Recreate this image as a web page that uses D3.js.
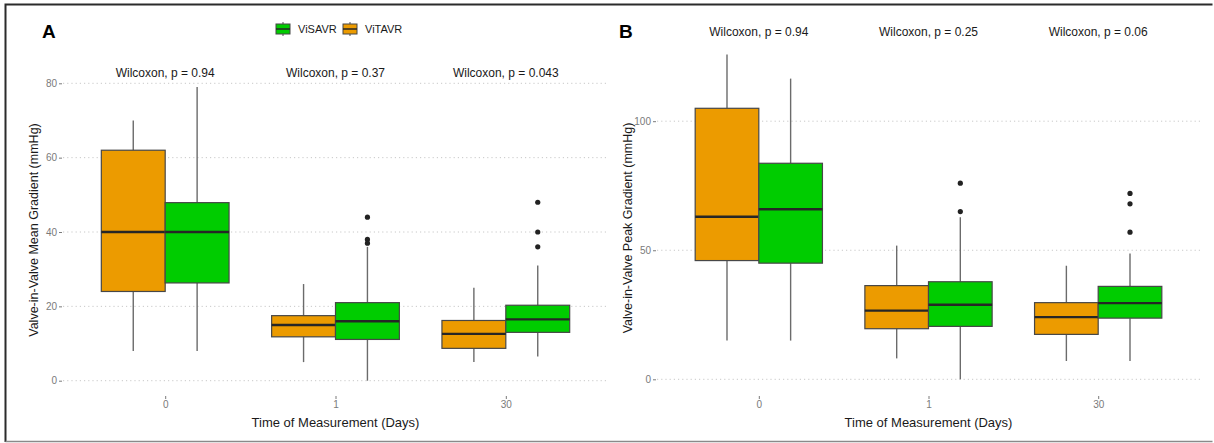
<!DOCTYPE html>
<html>
<head>
<meta charset="utf-8">
<script src="https://cdn.jsdelivr.net/npm/d3@7"></script>
<style>
  body { margin: 0; background: #fff; }
  svg { display: block; font-family: "Liberation Sans", Arial, sans-serif; }
  .grid line { stroke: #c8c8c8; stroke-dasharray: 1.2 3; stroke-width: 1; }
  .axis text { fill: #7a7a7a; font-size: 10px; }
  .axis line { stroke: #7a7a7a; }
  .axis path { display: none; }
</style>
</head>
<body>
<div id="chart"></div>
<script>
// categories
const days = ["0", "1", "30"];
const groups = ["ViTAVR", "ViSAVR"];          // dodge order (left, right)
const legendOrder = ["ViSAVR", "ViTAVR"];
const colors = { ViTAVR: "#ec9b00", ViSAVR: "#00cc00" };

// box stats per day: [lower whisker, Q1, median, Q3, upper whisker]
const meanTAVR = [[8, 24, 40, 62, 70], [5, 11.8, 15, 17.5, 26], [5, 8.7, 12.6, 16.2, 25]];
const meanSAVR = [[8, 26.3, 40, 47.9, 79], [0, 11.1, 16, 21, 36], [6.5, 13, 16.5, 20.3, 31]];
const meanTAVROut = [[], [], []];
const meanSAVROut = [[], [37, 38, 44], [36, 40, 48]];
const meanP = ["0.94", "0.37", "0.043"];
const meanTicks = [0, 20, 40, 60, 80];

const peakTAVR = [[15, 46, 63, 105, 125.8], [8.1, 19.6, 26.6, 36.3, 51.8], [7.1, 17.4, 24.1, 29.7, 44]];
const peakSAVR = [[15, 45, 65.9, 83.7, 116.5], [0, 20.5, 28.9, 37.8, 62.8], [7.1, 23.7, 29.5, 36, 48.7]];
const peakTAVROut = [[], [], []];
const peakSAVROut = [[], [65, 76], [57, 68, 72]];
const peakP = ["0.94", "0.25", "0.06"];
const peakTicks = [0, 50, 100];

const W = 1214, H = 443;
const svg = d3.select("#chart").append("svg").attr("width", W).attr("height", H);

// outer frame
svg.append("path")
  .attr("d", `M5.5,442 L5.5,4.5 L1212.5,4.5`)
  .attr("fill", "none").attr("stroke", "#2b2b2b").attr("stroke-width", 2);
svg.append("path")
  .attr("d", `M5.5,441.5 L1212.5,441.5`)
  .attr("fill", "none").attr("stroke", "#8a8a8a").attr("stroke-width", 1.5);

function panel(opt) {
  const g = svg.append("g");
  const x = d3.scalePoint().domain(days).range([opt.left + 0.6 * opt.step, opt.right - 0.6 * opt.step]);
  const y = d3.scaleLinear().domain(opt.domain).range(opt.yRange);
  const bw = opt.step * 0.75 / 2;

  // grid
  g.append("g").attr("class", "grid").selectAll("line").data(opt.ticks).join("line")
    .attr("x1", opt.left).attr("x2", opt.right)
    .attr("y1", d => y(d)).attr("y2", d => y(d));

  // axes
  g.append("g").attr("class", "axis")
    .attr("transform", `translate(${opt.left - 1},0)`)
    .call(d3.axisLeft(y).tickValues(opt.ticks).tickSize(3).tickPadding(2));
  g.append("g").attr("class", "axis")
    .attr("transform", `translate(0,${opt.xAxisY})`)
    .call(d3.axisBottom(x).tickSize(3).tickPadding(2));

  // axis titles
  g.append("text")
    .attr("transform", `translate(${opt.titleX},${opt.titleY}) rotate(-90)`)
    .attr("text-anchor", "middle").attr("font-size", 12.5).attr("fill", "#1a1a1a")
    .text(opt.yTitle);
  g.append("text")
    .attr("x", (opt.left + opt.right) / 2).attr("y", 427)
    .attr("text-anchor", "middle").attr("font-size", 13).attr("fill", "#1a1a1a")
    .text("Time of Measurement (Days)");

  // panel letter
  g.append("text").attr("x", opt.letterX).attr("y", 38)
    .attr("font-size", 19).attr("font-weight", "bold").attr("fill", "#000")
    .text(opt.letter);

  // p-value labels
  g.selectAll("text.pval").data(days).join("text").attr("class", "pval")
    .attr("x", d => x(d)).attr("y", opt.pY)
    .attr("text-anchor", "middle").attr("font-size", 12).attr("fill", "#1a1a1a")
    .text((d, i) => `Wilcoxon, p = ${opt.p[i]}`);

  // boxes
  groups.forEach((grp, gi) => {
    const stats = opt.stats[grp];
    const outs = opt.outliers[grp];
    const offset = gi === 0 ? -bw / 2 : bw / 2;
    days.forEach((day, di) => {
      const [lo, q1, med, q3, hi] = stats[di];
      const cx = x(day) + offset;
      const bg = g.append("g");
      bg.append("line").attr("x1", cx).attr("x2", cx).attr("y1", y(hi)).attr("y2", y(q3))
        .attr("stroke", "#6b6b6b").attr("stroke-width", 1.4);
      bg.append("line").attr("x1", cx).attr("x2", cx).attr("y1", y(q1)).attr("y2", y(lo))
        .attr("stroke", "#6b6b6b").attr("stroke-width", 1.4);
      bg.append("rect").attr("x", cx - bw / 2).attr("width", bw)
        .attr("y", y(q3)).attr("height", y(q1) - y(q3))
        .attr("fill", colors[grp]).attr("stroke", "#474747").attr("stroke-width", 1.2);
      bg.append("line").attr("x1", cx - bw / 2).attr("x2", cx + bw / 2)
        .attr("y1", y(med)).attr("y2", y(med))
        .attr("stroke", "#262626").attr("stroke-width", 2.4);
      bg.selectAll("circle").data(outs[di]).join("circle")
        .attr("cx", cx).attr("cy", d => y(d)).attr("r", 2.6).attr("fill", "#222");
    });
  });
  return g;
}

panel({
  left: 63, right: 608, step: (608 - 63) / 3.2, domain: [0, 80], yRange: [380.7, 83.3],
  ticks: meanTicks, xAxisY: 396, titleX: 38, titleY: 230,
  yTitle: "Valve-in-Valve Mean Gradient (mmHg)", letter: "A", letterX: 42,
  pY: 77, p: meanP,
  stats: { ViTAVR: meanTAVR, ViSAVR: meanSAVR },
  outliers: { ViTAVR: meanTAVROut, ViSAVR: meanSAVROut }
});

panel({
  left: 657, right: 1200, step: (1200 - 657) / 3.2, domain: [0, 100], yRange: [379.3, 121.2],
  ticks: peakTicks, xAxisY: 396, titleX: 632, titleY: 228,
  yTitle: "Valve-in-Valve Peak Gradient (mmHg)", letter: "B", letterX: 619,
  pY: 36, p: peakP,
  stats: { ViTAVR: peakTAVR, ViSAVR: peakSAVR },
  outliers: { ViTAVR: peakTAVROut, ViSAVR: peakSAVROut }
});

// legend (top of panel A)
const leg = svg.append("g").attr("transform", "translate(276,29)");
const item = leg.selectAll("g").data(legendOrder).join("g")
  .attr("transform", (d, i) => `translate(${i * 67},0)`);
item.append("line").attr("x1", 7).attr("x2", 7).attr("y1", -7).attr("y2", 7)
  .attr("stroke", "#6b6b6b").attr("stroke-width", 1.2);
item.append("rect").attr("x", 0).attr("y", -5).attr("width", 14).attr("height", 10)
  .attr("fill", d => colors[d]).attr("stroke", "#474747").attr("stroke-width", 1);
item.append("line").attr("x1", 0).attr("x2", 14).attr("y1", 0).attr("y2", 0)
  .attr("stroke", "#262626").attr("stroke-width", 1.5);
item.append("text").attr("x", 22).attr("y", 4).attr("font-size", 11).attr("fill", "#1a1a1a")
  .text(d => d);
</script>
</body>
</html>
